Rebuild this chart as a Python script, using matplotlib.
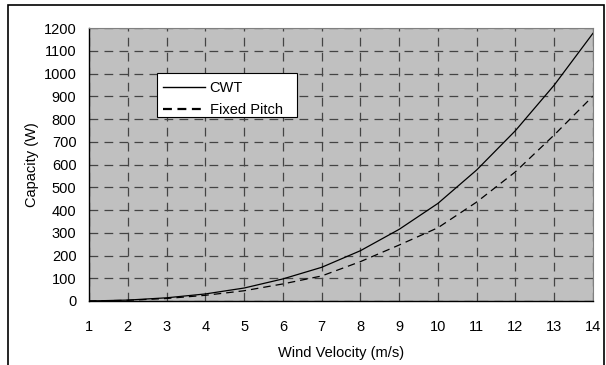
import matplotlib
matplotlib.use("Agg")
from matplotlib import pyplot as plt
from matplotlib.patches import Rectangle
from matplotlib.lines import Line2D

plt.rcParams["font.family"] = ["Liberation Sans", "DejaVu Sans"]

wind = [1, 2, 3, 4, 5, 6, 7, 8, 9, 10, 11, 12, 13, 14]
cwt = [0, 4, 14, 31, 57, 97, 148, 221, 315, 429, 576, 749, 949, 1177]
fixed_pitch = [0, 3, 11, 25, 45, 75, 110, 173, 246, 322, 435, 568, 730, 901]
labels = ["CWT", "Fixed Pitch"]

W, H = 606, 365
L, R, T, B = 89, 593, 28, 301
fs = 10.5

fig = plt.figure(figsize=(W / 100, H / 100), dpi=100)
ax = fig.add_axes([L / W, 1 - B / H, (R - L) / W, (B - T) / H])

# outer frame around the whole chart
fig.patches.append(Rectangle((8 / W, -0.1), (604 - 8) / W, 1.1 - 5 / H,
                             transform=fig.transFigure, fill=False,
                             edgecolor="black", linewidth=1.2))

ax.set_facecolor("#c0c0c0")
ax.plot(wind, cwt, color="black", linewidth=0.9)
ax.plot(wind, fixed_pitch, color="black", linewidth=0.9, linestyle=(0, (6, 4)))

ax.set_xlim(1, 14)
ax.set_ylim(0, 1200)
ax.set_xticks(range(1, 15))
ax.set_yticks(range(0, 1201, 100))
ax.grid(True, color="#444444", linestyle=(0, (7, 5)), linewidth=0.9)
ax.tick_params(axis="both", length=0, labelsize=fs)
ax.tick_params(axis="x", pad=14)
ax.tick_params(axis="y", pad=9)

for s in ["top", "right"]:
    ax.spines[s].set_color("#808080")
for s in ["left", "bottom"]:
    ax.spines[s].set_color("black")
    ax.spines[s].set_linewidth(1.0)

ax.set_xlabel("Wind Velocity (m/s)", fontsize=fs, labelpad=8)
ax.set_ylabel("Capacity (W)", fontsize=fs, labelpad=3)

# legend box drawn separately so the text can sit like in the original
ax.add_patch(Rectangle(((157 - L) / (R - L), (B - 117) / (B - T)),
                       (297 - 157) / (R - L), (117 - 73) / (B - T),
                       transform=ax.transAxes, facecolor="white",
                       edgecolor="black", linewidth=0.8, zorder=4))
handles = [Line2D([], [], color="black", linewidth=1.0),
           Line2D([], [], color="black", linewidth=1.6, linestyle=(0, (4, 2.5)))]
leg = ax.legend(handles, labels, loc="upper left",
                bbox_to_anchor=((163 - L) / (R - L), (B - 81) / (B - T)),
                frameon=False, fontsize=fs, handlelength=2.9,
                borderpad=0, labelspacing=0.55, handletextpad=0.3,
                borderaxespad=0)
leg.set_zorder(5)

plt.savefig("out.png", dpi=100)
